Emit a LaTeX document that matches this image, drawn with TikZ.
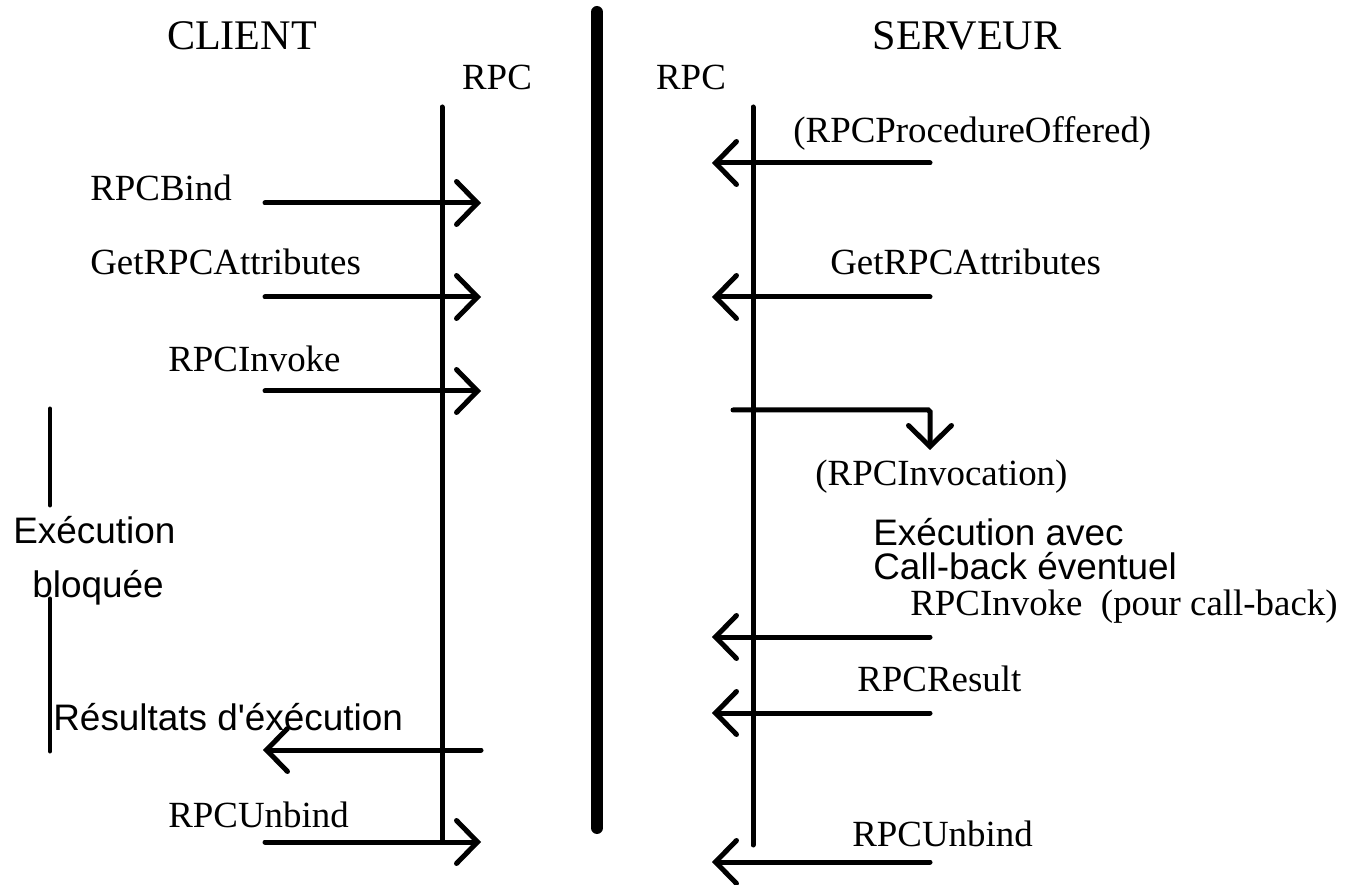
\documentclass[tikz,border=0pt]{standalone}
\usepackage{fontspec}
\setmainfont{Liberation Serif}
\newfontfamily\arialfont{Liberation Sans}
\usetikzlibrary{arrows.meta,positioning}
\tikzstyle{life}=[-, line width=0.1cm, line cap=round]
\tikzstyle{wall}=[-, line width=0.24cm, line cap=round]
\tikzstyle{msg}=[-{Straight Barb[length=0.42cm,width=0.86cm,line cap=round]},
		line width=0.1cm, line cap=round, rounded corners=1pt]
\tikzstyle{lbl}=[inner sep=0pt, anchor=base west, font=\fontsize{21}{25}\selectfont]
\tikzstyle{note}=[inner sep=0pt, anchor=base west,
		font=\arialfont\fontsize{21}{25}\selectfont]
\tikzstyle{title}=[inner sep=0pt, anchor=base, font=\fontsize{24}{28}\selectfont]

\begin{document}
\begin{tikzpicture}[x=0.02cm, y=-0.02cm]

    \useasboundingbox (0,0) rectangle (1347,885);

    % titles
    \node (Client) [title] at (242,50) {CLIENT};
    \node (Serveur) [title] at (967,50) {SERVEUR};
    \node (RpcC) [lbl, anchor=base] at (497,90) {RPC};
    \node (RpcS) [lbl, anchor=base] at (691,90) {RPC};

    % lifelines
    \coordinate (CTop) at (442,107);
    \coordinate (CBot) at (442,840);
    \coordinate (STop) at (753,107);
    \coordinate (SBot) at (753,845);
    \coordinate (WTop) at (597,12);
    \coordinate (WBot) at (597,828);
    \draw [life] (CTop) -- (CBot);
    \draw [life] (STop) -- (SBot);
    \draw [wall] (WTop) -- (WBot);

    % client side
    \node (Bind) [lbl] at (90,201) {RPCBind};
    \coordinate (BindA) at (265,203);
    \coordinate (BindB) at (481,203);
    \draw [msg] (BindA) -- (BindB);

    \node (AttrC) [lbl] at (90,275) {GetRPCAttributes};
    \coordinate (AttrCA) at (265,297);
    \coordinate (AttrCB) at (481,297);
    \draw [msg] (AttrCA) -- (AttrCB);

    \node (InvC) [lbl] at (168,372) {RPCInvoke};
    \coordinate (InvCA) at (265,391);
    \coordinate (InvCB) at (481,391);
    \draw [msg] (InvCA) -- (InvCB);

    \node (Bloc1) [note] at (13,543) {Exécution};
    \node (Bloc2) [note] at (32,598) {bloquée};
    \coordinate (BarA) at (50,409);
    \coordinate (BarB) at (50,505);
    \coordinate (BarC) at (50,599);
    \coordinate (BarD) at (50,751);
    \draw [life] (BarA) -- (BarB);
    \draw [life] (BarC) -- (BarD);

    \node (Res) [note] at (53,730) {Résultats d'éxécution};
    \coordinate (ResA) at (481,750);
    \coordinate (ResB) at (263,750);
    \draw [msg] (ResA) -- (ResB);

    \node (UnbC) [lbl] at (168,827) {RPCUnbind};
    \coordinate (UnbCA) at (265,842);
    \coordinate (UnbCB) at (481,842);
    \draw [msg] (UnbCA) -- (UnbCB);

    % server side
    \node (Offer) [lbl] at (793,143) {(RPCProcedureOffered)};
    \coordinate (OfferA) at (930,163);
    \coordinate (OfferB) at (712,163);
    \draw [msg] (OfferA) -- (OfferB);

    \node (AttrS) [lbl] at (830,275) {GetRPCAttributes};
    \coordinate (AttrSA) at (930,297);
    \coordinate (AttrSB) at (712,297);
    \draw [msg] (AttrSA) -- (AttrSB);

    \coordinate (InvnA) at (733,410);
    \coordinate (InvnB) at (930,450);
    \draw [msg] (InvnA) -| (InvnB);
    \node (Invn) [lbl] at (815,485) {(RPCInvocation)};

    \node (Exec1) [note] at (873,545) {Exécution avec};
    \node (Exec2) [note] at (873,580) {Call-back éventuel};

    \node (Back) [lbl] at (910,615) {RPCInvoke\ \ (pour call-back)};
    \coordinate (BackA) at (930,637);
    \coordinate (BackB) at (712,637);
    \draw [msg] (BackA) -- (BackB);

    \node (Result) [lbl] at (857,691) {RPCResult};
    \coordinate (ResultA) at (930,713);
    \coordinate (ResultB) at (712,713);
    \draw [msg] (ResultA) -- (ResultB);

    \node (UnbS) [lbl] at (852,846) {RPCUnbind};
    \coordinate (UnbSA) at (930,862);
    \coordinate (UnbSB) at (712,862);
    \draw [msg] (UnbSA) -- (UnbSB);

  \end{tikzpicture}
\end{document}
